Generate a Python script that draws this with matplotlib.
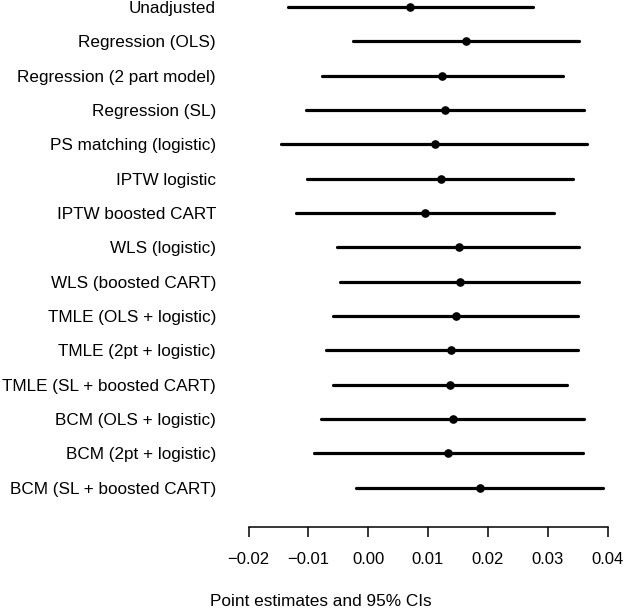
import numpy as np
import matplotlib
matplotlib.use('Agg')
import matplotlib.pyplot as plt

plt.rcParams['font.family'] = ['Liberation Sans', 'DejaVu Sans']

# metodos, estimaciones puntuales e intervalos de 95%
metodos = ['Unadjusted', 'Regression (OLS)', 'Regression (2 part model)',
           'Regression (SL)', 'PS matching (logistic)', 'IPTW logistic',
           'IPTW boosted CART', 'WLS (logistic)', 'WLS (boosted CART)',
           'TMLE (OLS + logistic)', 'TMLE (2pt + logistic)',
           'TMLE (SL + boosted CART)', 'BCM (OLS + logistic)',
           'BCM (2pt + logistic)', 'BCM (SL + boosted CART)']
estimacion = [0.0070, 0.0164, 0.0123, 0.0129, 0.0111, 0.0121, 0.0095, 0.0152,
              0.0154, 0.0146, 0.0139, 0.0137, 0.0142, 0.0134, 0.0187]
ic_inf = [-0.0134, -0.0025, -0.0077, -0.0104, -0.0145, -0.0102, -0.0121, -0.0052,
          -0.0047, -0.0059, -0.0070, -0.0058, -0.0079, -0.0090, -0.0020]
ic_sup = [0.0276, 0.0353, 0.0325, 0.0360, 0.0365, 0.0343, 0.0310, 0.0353,
          0.0353, 0.0350, 0.0350, 0.0332, 0.0361, 0.0359, 0.0392]
ticks_x = [-0.02, -0.01, 0.00, 0.01, 0.02, 0.03, 0.04]
etiquetas_x = ['\u22120.02', '\u22120.01', '0.00', '0.01', '0.02', '0.03', '0.04']

fig = plt.figure(figsize=(6.25, 6.1), dpi=100)
ax = fig.add_axes([248.5 / 625, 83 / 610, 359 / 625, 527 / 610])

filas = np.arange(len(metodos))
for i in filas:
    ax.plot([ic_inf[i], ic_sup[i]], [i, i], color='black', lw=2.3,
            solid_capstyle='round', clip_on=False)
ax.plot(estimacion, filas, 'o', color='black', ms=5.2, clip_on=False)

ax.set_xlim(-0.02, 0.04)
ax.set_ylim(15.15, -0.204)

for lado in ['top', 'right', 'left']:
    ax.spines[lado].set_visible(False)
ax.spines['bottom'].set_linewidth(1.1)

ax.set_xticks(ticks_x)
ax.set_xticklabels(etiquetas_x, fontsize=12)
ax.tick_params(axis='x', length=7.2, width=1.1, pad=10.5)

ax.set_yticks(filas)
ax.set_yticklabels(metodos, fontsize=12.3)
ax.tick_params(axis='y', length=0, pad=23.4)

fig.text(321 / 625, 8 / 610, 'Point estimates and 95% CIs', fontsize=12.4,
         ha='center', va='center')

plt.savefig('out.png', dpi=100)
plt.close()
